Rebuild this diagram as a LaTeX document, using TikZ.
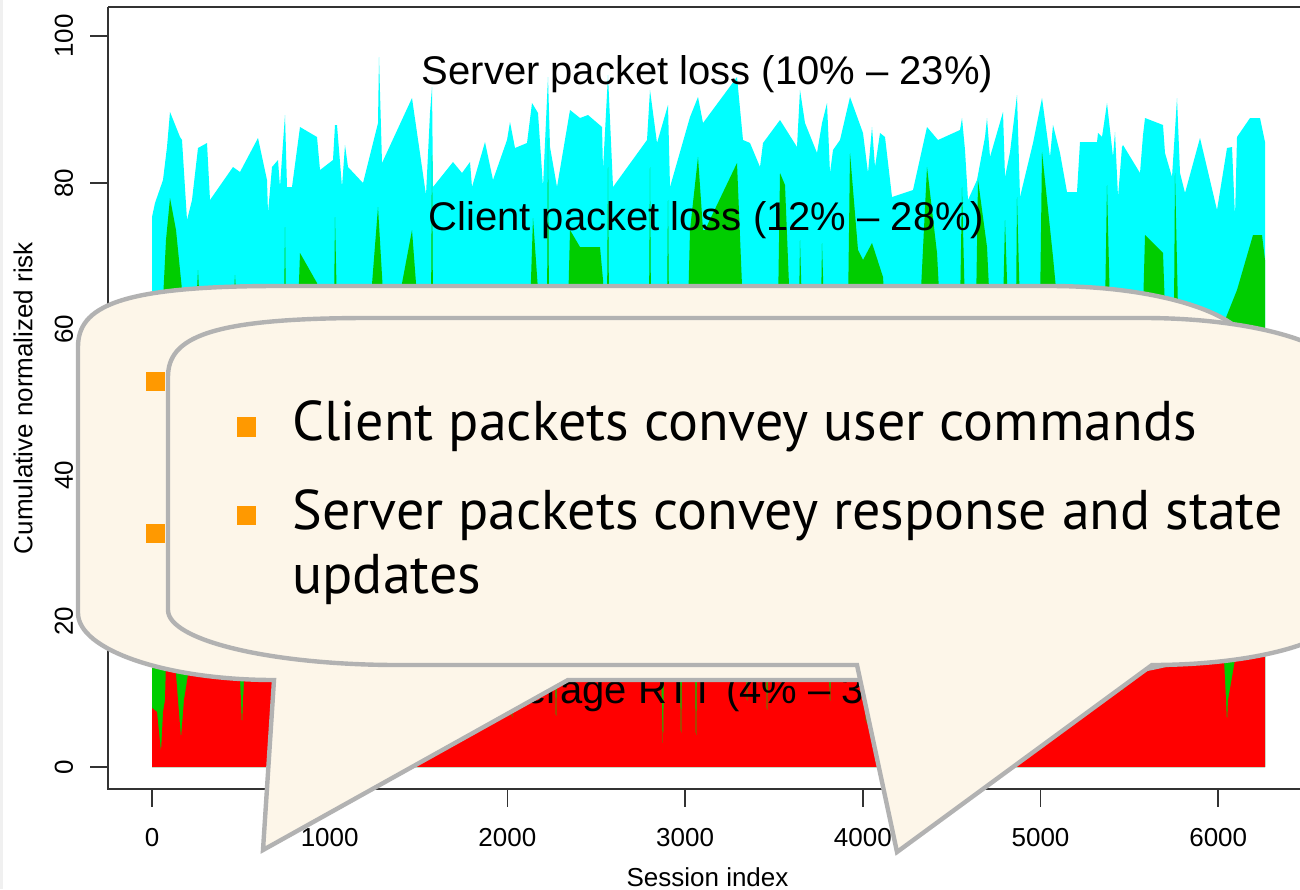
\documentclass[tikz,border=0pt]{standalone}
\usepackage{fontspec}
\setmainfont{Liberation Sans}
\newfontfamily\calloutfont{PT Sans}
\definecolor{cream}{RGB}{253,246,233}
\definecolor{calloutgray}{RGB}{178,178,178}
\definecolor{bulletorange}{RGB}{255,153,0}
\definecolor{plotcyan}{RGB}{0,255,255}
\definecolor{plotgreen}{RGB}{0,205,0}
\definecolor{plotred}{RGB}{255,0,0}
\begin{document}
\begin{tikzpicture}[x=0.5pt,y=-0.5pt,
  axisline/.style={draw=black!80, line width=0.9pt},
  ticklabel/.style={font=\fontsize{13}{15}\selectfont, inner sep=0pt},
  charttitle/.style={font=\fontsize{20}{24}\selectfont, anchor=base, inner sep=0pt},
  calloutshape/.style={fill=cream, draw=calloutgray, line width=2.2pt, line join=miter, miter limit=20},
  bulletsq/.style={fill=bulletorange},
  callouttext/.style={font=\calloutfont\fontsize{28}{33}\selectfont, anchor=base west, inner sep=0pt}]
\useasboundingbox (0,0) rectangle (1300,889);
\clip (0,0) rectangle (1300,889);
\fill[white] (0,0) rectangle (1300,889);
\fill[black!6] (0,0) rectangle (3,889);
% cyan layer
\fill[plotcyan] (152,767) -- (152,217) -- (155,203) -- (163,180) -- (167,147) -- (170,112) -- (180,137) -- (182,140) -- (187,220) -- (192,200) -- (198,148) -- (207,143) -- (210,200) -- (233,167) -- (240,172) -- (258,138) -- (267,180) -- (268,213) -- (272,167) -- (278,160) -- (280,187) -- (283,143) -- (285,115) -- (287,187) -- (292,187) -- (300,127) -- (317,137) -- (320,170) -- (333,160) -- (335,125) -- (337,125) -- (342,187) -- (345,145) -- (348,167) -- (363,183) -- (378,123) -- (379,57) -- (382,163) -- (412,98) -- (426,195) -- (430,113) -- (432,87) -- (433,187) -- (453,162) -- (462,173) -- (470,162) -- (472,187) -- (485,142) -- (493,180) -- (507,140) -- (510,122) -- (515,148) -- (527,143) -- (532,103) -- (538,113) -- (543,187) -- (548,77) -- (550,147) -- (557,187) -- (570,110) -- (580,118) -- (588,115) -- (602,127) -- (603,170) -- (608,75) -- (613,187) -- (647,140) -- (650,90) -- (657,143) -- (668,105) -- (670,187) -- (690,117) -- (698,97) -- (703,123) -- (737,77) -- (743,140) -- (750,143) -- (760,167) -- (763,143) -- (780,120) -- (797,147) -- (800,90) -- (805,123) -- (817,153) -- (822,123) -- (827,103) -- (830,173) -- (833,150) -- (840,140) -- (850,97) -- (863,133) -- (868,173) -- (872,127) -- (875,167) -- (880,133) -- (885,137) -- (892,197) -- (913,190) -- (927,127) -- (938,140) -- (960,130) -- (962,118) -- (965,150) -- (968,200) -- (977,180) -- (985,137) -- (987,118) -- (990,157) -- (1003,112) -- (1005,177) -- (1010,152) -- (1017,95) -- (1020,197) -- (1033,143) -- (1042,98) -- (1050,157) -- (1053,125) -- (1060,153) -- (1067,192) -- (1077,192) -- (1080,142) -- (1097,142) -- (1098,133) -- (1102,137) -- (1107,103) -- (1113,157) -- (1115,132) -- (1118,197) -- (1122,147) -- (1123,145) -- (1140,173) -- (1143,135) -- (1145,118) -- (1163,125) -- (1165,153) -- (1172,177) -- (1175,130) -- (1177,98) -- (1180,173) -- (1185,193) -- (1200,138) -- (1217,210) -- (1227,148) -- (1232,147) -- (1235,217) -- (1237,137) -- (1250,118) -- (1260,118) -- (1265,142) -- (1265,767) -- cycle;
% green layer
\fill[plotgreen] (152,767) -- (152,310) -- (163,300) -- (166,240) -- (170,198) -- (176,230) -- (182,290) -- (185,310) -- (196,310) -- (198,270) -- (200,310) -- (233,310) -- (235,275) -- (237,310) -- (284,310) -- (285,227) -- (286,310) -- (298,310) -- (300,253) -- (317,283) -- (318,310) -- (334,310) -- (335,217) -- (337,310) -- (370,310) -- (378,207) -- (384,310) -- (397,310) -- (412,230) -- (418,310) -- (431,310) -- (432,155) -- (433,310) -- (530,310) -- (533,218) -- (538,290) -- (539,310) -- (547,310) -- (548,138) -- (549,310) -- (568,310) -- (570,230) -- (580,247) -- (600,247) -- (603,280) -- (604,310) -- (607,310) -- (608,167) -- (609,310) -- (649,310) -- (650,167) -- (651,310) -- (667,310) -- (668,200) -- (669,310) -- (688,310) -- (690,230) -- (698,157) -- (703,230) -- (705,230) -- (737,163) -- (743,310) -- (778,310) -- (780,173) -- (785,185) -- (790,310) -- (799,310) -- (800,240) -- (802,310) -- (821,310) -- (822,243) -- (824,310) -- (848,310) -- (850,153) -- (858,250) -- (863,260) -- (872,243) -- (883,277) -- (885,310) -- (920,310) -- (927,167) -- (937,253) -- (940,310) -- (960,310) -- (962,187) -- (965,310) -- (976,310) -- (978,180) -- (987,247) -- (990,310) -- (1003,310) -- (1005,220) -- (1008,310) -- (1016,310) -- (1017,197) -- (1020,310) -- (1040,310) -- (1042,152) -- (1053,257) -- (1058,310) -- (1105,310) -- (1107,185) -- (1110,310) -- (1143,310) -- (1145,235) -- (1163,253) -- (1165,310) -- (1174,310) -- (1175,173) -- (1178,310) -- (1225,320) -- (1237,290) -- (1253,235) -- (1262,235) -- (1265,260) -- (1265,767) -- cycle;
% red layer
\fill[plotred] (152,767) -- (152,708) -- (157,712) -- (161,752) -- (163,712) -- (165,700) -- (166,662) -- (175,662) -- (178,700) -- (181,738) -- (184,700) -- (190,662) -- (239,662) -- (241,700) -- (242,727) -- (243,700) -- (245,662) -- (454,662) -- (456,750) -- (457,662) -- (511,662) -- (512,735) -- (513,662) -- (555,662) -- (556,733) -- (557,662) -- (661,662) -- (663,755) -- (664,662) -- (680,662) -- (681,755) -- (682,662) -- (695,662) -- (696,758) -- (697,662) -- (746,662) -- (747,713) -- (748,662) -- (766,662) -- (767,725) -- (768,662) -- (829,662) -- (830,713) -- (831,662) -- (865,662) -- (866,742) -- (867,662) -- (1122,662) -- (1123,700) -- (1124,662) -- (1224,660) -- (1226,700) -- (1227,723) -- (1228,700) -- (1235,660) -- (1265,650) -- (1265,767) -- cycle;
% layer labels
\node[charttitle] (tserver) at (707.5,84) {Server packet loss (10\% – 23\%)};
\node[charttitle] (tclient) at (706.5,230) {Client packet loss (12\% – 28\%)};
\node[charttitle] (trtt) at (707,703) {Average RTT (4\% – 35\%)};
% axes
\draw[axisline] (108,7) -- (1310,7);
\draw[axisline] (108,7) -- (108,789) -- (1310,789);
\foreach \v/\yy in {0/767,20/621,40/475,60/329,80/183,100/36}{
  \draw[axisline] (90,\yy) -- (108,\yy);
  \node[ticklabel, rotate=90] (ytick\v) at (64,\yy) {\v};
}
\foreach \v/\xx in {0/152,1000/329.7,2000/507.4,3000/685.1,4000/862.8,5000/1040.5,6000/1218.2}{
  \draw[axisline] (\xx,789) -- (\xx,807);
  \node[ticklabel] (xtick\v) at (\xx,837.5) {\v};
}
\node[ticklabel] (xtitle) at (707.5,877) {Session index};
\node[ticklabel, rotate=90] (ytitle) at (23,398) {Cumulative normalized risk};
% callout 1 (back)
\path[calloutshape] (78,347) .. controls (78,307) and (118,286) .. (278,286) -- (1050,286) .. controls (1160.5,286) and (1250,315) .. (1250,351) -- (1250,613) .. controls (1250,650) and (1147,680) .. (1020,680) -- (568,680) -- (263,850) -- (274,680) .. controls (166,680) and (78,650) .. (78,613) -- cycle;
\fill[bulletsq] (146,372) rectangle (165,391);
\fill[bulletsq] (146,524) rectangle (165,543);
% callout 2 (front)
\path[calloutshape] (168,377) .. controls (168,338) and (208,318) .. (368,318) -- (1144,318) .. controls (1254.5,318) and (1344,344.4) .. (1344,377) -- (1344,610) .. controls (1344,640.4) and (1258,665) .. (1152,665) -- (897,852) -- (857,665) -- (398,665) .. controls (271,665) and (168,640.4) .. (168,610) -- cycle;
\fill[bulletsq] (237,417) rectangle (256,437);
\fill[bulletsq] (237,506) rectangle (256,525);
\node[callouttext] (t1) at (292,440) {Client packets convey user commands};
\node[callouttext] (t2) at (292,529) {Server packets convey response and state};
\node[callouttext] (t3) at (292,593) {updates};
\end{tikzpicture}
\end{document}
